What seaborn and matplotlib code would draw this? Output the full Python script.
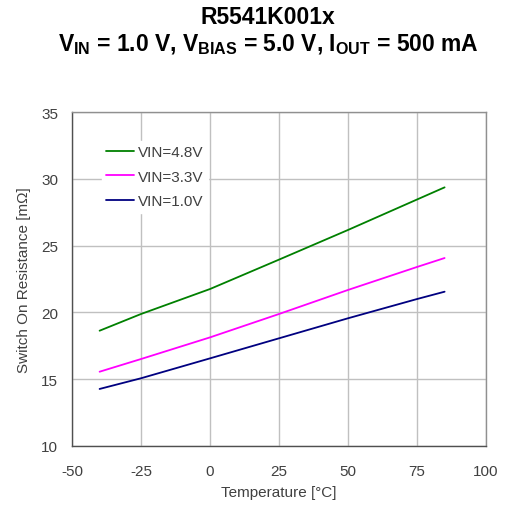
import matplotlib
matplotlib.use("Agg")
import matplotlib.pyplot as plt
import seaborn as sns
import pandas as pd

temps = [-40, -25, 0, 25, 50, 75, 85]
r_vin48 = [18.63, 19.88, 21.75, 23.95, 26.17, 28.45, 29.36]
r_vin33 = [15.56, 16.51, 18.13, 19.88, 21.68, 23.40, 24.07]
r_vin10 = [14.27, 15.07, 16.56, 18.06, 19.56, 21.00, 21.55]
labels = ["VIN=4.8V", "VIN=3.3V", "VIN=1.0V"]
colors = ["#008000", "#ff00ff", "#000080"]
xticks = [-50, -25, 0, 25, 50, 75, 100]
yticks = [10, 15, 20, 25, 30, 35]

sns.set_style("white")
plt.rcParams['font.family'] = ['Liberation Sans', 'DejaVu Sans']
plt.rcParams['axes.unicode_minus'] = False
plt.rcParams['mathtext.fontset'] = 'custom'
plt.rcParams['mathtext.rm'] = 'Liberation Sans:bold'
plt.rcParams['mathtext.it'] = 'Liberation Sans:bold'
plt.rcParams['mathtext.bf'] = 'Liberation Sans:bold'

df = pd.concat([
    pd.DataFrame({"T": temps, "R": vals, "series": lab})
    for vals, lab in zip([r_vin48, r_vin33, r_vin10], labels)
])

fig = plt.figure(figsize=(5.06, 5.06), dpi=100)
ax = fig.add_axes([72/506, 1-447/506, (486-72)/506, (447-113)/506])
sns.lineplot(data=df, x="T", y="R", hue="series", hue_order=labels,
             palette=colors, linewidth=1.3, ax=ax, legend=True)

ax.set_xlim(-50, 100)
ax.set_ylim(10, 35)
ax.set_xticks(xticks)
ax.set_yticks(yticks)
ax.grid(True, color="#c0c0c0", linewidth=1.0)
ax.set_axisbelow(True)
for k, s in ax.spines.items():
    s.set_color("#505050" if k in ("left", "bottom") else "#909090")
    s.set_linewidth(1.0)
ax.tick_params(axis="both", direction="in", length=3, color="#505050",
               labelsize=11, labelcolor="#404040")
ax.tick_params(axis="x", pad=13)
ax.tick_params(axis="y", pad=10)
ax.set_xlabel("Temperature [°C]", fontsize=11, color="#404040", labelpad=5)
ax.set_ylabel("Switch On Resistance [mΩ]", fontsize=11, color="#404040", labelpad=7)

leg = ax.legend(loc="upper left", bbox_to_anchor=(0.053, 0.937), frameon=True,
                fontsize=11, handlelength=1.8, handletextpad=0.3,
                labelspacing=0.68, borderpad=0.3)
leg.get_frame().set_facecolor("white")
leg.get_frame().set_edgecolor("white")
leg.get_frame().set_alpha(1.0)
leg.get_frame().set_boxstyle("square", pad=0.0)
for t in leg.get_texts():
    t.set_color("#404040")

fig.text(268/506, 1-18/506, "R5541K001x", ha="center", va="center",
         fontsize=16.5, fontweight="bold", color="black")
fig.text(268/506, 1-45/506,
         r"V$_{\mathrm{IN}}$ = 1.0 V, V$_{\mathrm{BIAS}}$ = 5.0 V, I$_{\mathrm{OUT}}$ = 500 mA",
         ha="center", va="center", fontsize=16.5, fontweight="bold", color="black")

fig.savefig("out.png", dpi=100)
